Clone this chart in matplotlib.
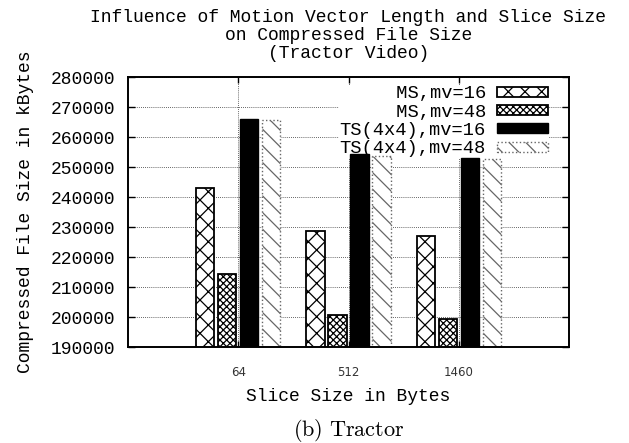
import matplotlib
matplotlib.use("Agg")
import matplotlib.pyplot as plt
from matplotlib.patches import Patch
import numpy as np

# ---- data ----
slice_sizes = ["64", "512", "1460"]
series_labels = ["MS,mv=16", "MS,mv=48", "TS(4x4),mv=16", "TS(4x4),mv=48"]
ms_mv16 = [243100, 228700, 227000]
ms_mv48 = [214300, 200700, 199300]
ts_mv16 = [266000, 254300, 253100]
ts_mv48 = [265700, 253800, 252700]
y_ticks = [190000, 200000, 210000, 220000, 230000, 240000, 250000, 260000, 270000, 280000]

plt.rcParams["hatch.linewidth"] = 0.9
mono = "Liberation Mono"

fig = plt.figure(figsize=(6.29, 4.43), dpi=100)
ax = fig.add_axes([128 / 629, 1 - 347 / 443, (569 - 128) / 629, (347 - 77) / 443])

x = np.arange(len(slice_sizes))
w = 0.165
offsets = [-0.3, -0.1, 0.1, 0.3]
styles = [
    dict(facecolor="white", edgecolor="black", hatch="xx", linewidth=1.3, linestyle="-"),
    dict(facecolor="white", edgecolor="black", hatch="xxxxx", linewidth=1.3, linestyle="-"),
    dict(facecolor="black", edgecolor="black", hatch=None, linewidth=1.0, linestyle="-"),
    dict(facecolor="white", edgecolor="#666666", hatch="\\\\", linewidth=1.0, linestyle=":"),
]
data = [ms_mv16, ms_mv48, ts_mv16, ts_mv48]
handles = []
for vals, off, st, lab in zip(data, offsets, styles, series_labels):
    ax.bar(x + off, vals, width=w, bottom=0, zorder=3, **st)
    handles.append(Patch(label=lab, **st))

ax.set_xlim(-1, 3)
ax.set_ylim(190000, 280000)
ax.set_yticks(y_ticks)
ax.set_yticklabels([str(v) for v in y_ticks], fontfamily=mono, fontsize=13)
ax.set_xticks(x)
ax.set_xticklabels(slice_sizes, fontfamily="DejaVu Sans", fontsize=8.5, color="#333333")

ax.grid(True, color="#333333", linestyle=(0, (1, 1.5)), linewidth=0.6, zorder=0)
ax.set_axisbelow(True)
ax.tick_params(axis="y", direction="in", length=5, width=1, pad=9, right=True, left=True)
ax.tick_params(axis="x", direction="in", length=4, width=1, pad=14, top=True, bottom=True)
for s in ax.spines.values():
    s.set_linewidth(1.4)
    s.set_zorder(5)

ax.set_xlabel("Slice Size in Bytes", fontfamily=mono, fontsize=13, labelpad=6)
ax.set_ylabel("Compressed File Size in kBytes", fontfamily=mono, fontsize=13, labelpad=12)
ax.set_title("Influence of Motion Vector Length and Slice Size\non Compressed File Size\n(Tractor Video)",
             fontfamily=mono, fontsize=13, linespacing=1.05, pad=14)

maxlen = max(len(l) for l in series_labels)
leg = ax.legend(handles=handles,
                labels=[l.rjust(maxlen) for l in series_labels],
                loc="upper right", bbox_to_anchor=(0.954, 0.972),
                prop={"family": mono, "size": 13.5},
                markerfirst=False, frameon=True, fancybox=False,
                framealpha=1.0, facecolor="white", edgecolor="none",
                handlelength=2.7, handleheight=0.45, handletextpad=0.6,
                labelspacing=0.07, borderpad=0.05, borderaxespad=0.0)
leg.set_zorder(2.5)

fig.text(349 / 629, 1 - 430 / 443, r"$\mathrm{(b)\ Tractor}$", ha="center", va="center",
         fontsize=16, math_fontfamily="cm")

fig.savefig("out.png", dpi=100)
